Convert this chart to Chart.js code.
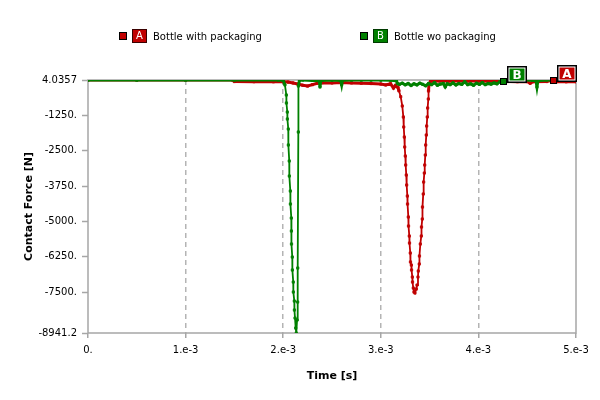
<!DOCTYPE html>
<html>
<head>
<meta charset="utf-8">
<script src="https://cdn.jsdelivr.net/npm/chart.js@4"></script>
<style>
  html, body { margin: 0; padding: 0; background: #fff; }
  #wrap { width: 600px; height: 400px; }
</style>
</head>
<body>
<div id="wrap"><canvas id="forceChart" width="600" height="400"></canvas></div>
<script>
// series info
const seriesNames = ['Bottle with packaging', 'Bottle wo packaging'];
const seriesTags = ['A', 'B'];
const seriesColors = ['#c00000', '#008000'];
const tagTimes = [0.004764, 0.00425];

// axes
const xTicks = [0, 0.001, 0.002, 0.003, 0.004, 0.005];
const xTickLabels = ['0.', '1.e-3', '2.e-3', '3.e-3', '4.e-3', '5.e-3'];
const yTicks = [-8941.2, -7500, -6250, -5000, -3750, -2500, -1250, 4.0357];
const yTickLabels = ['-8941.2', '-7500.', '-6250.', '-5000.', '-3750.', '-2500.', '-1250.', '4.0357'];

// A: bottle with packaging
const timeA = [0, 0.0005, 0.001, 0.00148, 0.0015, 0.0017, 0.0019, 0.002, 0.00205, 0.0021,
  0.00215, 0.0022, 0.00225, 0.0023, 0.00235, 0.0024, 0.0025, 0.0026, 0.0027, 0.0028,
  0.0029, 0.003, 0.00305, 0.0031, 0.00313, 0.00315, 0.003176, 0.003186, 0.003204, 0.00322,
  0.003231, 0.003235, 0.003241, 0.003245, 0.003251, 0.003255, 0.003261, 0.003265, 0.003272, 0.003274,
  0.003282, 0.003284, 0.003292, 0.003294, 0.003302, 0.003304, 0.003313, 0.003315, 0.003323, 0.003325,
  0.003333, 0.00334, 0.00335, 0.003364, 0.003371, 0.003381, 0.003384, 0.003394, 0.003396, 0.003405,
  0.003415, 0.003417, 0.003425, 0.003427, 0.003435, 0.003439, 0.003446, 0.00345, 0.003456, 0.00346,
  0.003466, 0.00347, 0.003476, 0.00348, 0.003487, 0.003489, 0.003494, 0.00351, 0.0036, 0.0037,
  0.0038, 0.0039, 0.004, 0.0041, 0.0042, 0.0043, 0.0044, 0.0045, 0.00453, 0.00456,
  0.0047, 0.004764, 0.0048, 0.0049, 0.005];
const forceA = [0, 0, 0, 0, -50, -55, -60, -60, -70, -100,
  -140, -180, -210, -160, -110, -90, -100, -85, -100, -110,
  -120, -140, -170, -130, -280, -190, -260, -380, -587, -915,
  -1304, -1658, -2012, -2365, -2683, -3002, -3355, -3709, -4098, -4381,
  -4840, -5159, -5512, -5760, -6113, -6431, -6538, -6714, -6962, -7139,
  -7351, -7492, -7528, -7386, -7245, -6962, -6750, -6502, -6219, -5795,
  -5512, -5194, -4911, -4487, -4027, -3603, -3285, -3002, -2648, -2294,
  -1941, -1623, -1304, -986, -668, -385, -137, -40, -30, -35,
  -30, -35, -30, -40, -35, -50, -55, -50, -110, -55,
  -50, 0, -55, -60, -55];

// B: bottle wo packaging
const timeB = [0, 0.0005, 0.001, 0.0015, 0.00195, 0.002, 0.002018, 0.002032, 0.002033, 0.002042,
  0.002043, 0.002052, 0.002053, 0.002062, 0.002063, 0.002073, 0.002074, 0.002083, 0.002084, 0.002085,
  0.002093, 0.002094, 0.002103, 0.002104, 0.002114, 0.002115, 0.002121, 0.002128, 0.002134, 0.002142,
  0.002148, 0.002149, 0.002155, 0.002156, 0.002167, 0.0022, 0.0023, 0.00237, 0.002377, 0.002385,
  0.0025, 0.00259, 0.002599, 0.002607, 0.0027, 0.0028, 0.0029, 0.003, 0.0031, 0.00316,
  0.00317, 0.00319, 0.00322, 0.00325, 0.00328, 0.00331, 0.00334, 0.00337, 0.0034, 0.00343,
  0.00346, 0.00349, 0.00352, 0.00355, 0.00358, 0.00361, 0.00364, 0.00366, 0.00368, 0.00371,
  0.00374, 0.00377, 0.0038, 0.00383, 0.00386, 0.00389, 0.00392, 0.00395, 0.00398, 0.00401,
  0.00404, 0.00407, 0.0041, 0.00413, 0.00416, 0.00419, 0.00422, 0.00425, 0.0043, 0.00435,
  0.00445, 0.00455, 0.00459, 0.0046, 0.00461, 0.0047, 0.00477];
const forceB = [0, 0, 0, 0, 0, -5, -173, -526, -809, -1128,
  -1375, -1729, -2294, -2860, -3391, -3921, -4381, -4876, -5335, -5795,
  -6255, -6714, -7139, -7492, -7811, -8129, -8412, -8766, -8941.2, -8483,
  -7846, -6644, -1835, -208, 0, 0, -10, -20, -244, -15,
  0, -10, -162, -5, 0, 0, 0, 0, -5, -20,
  -120, -150, -110, -165, -120, -190, -130, -170, -110, -150,
  -200, -120, -160, -90, -180, -140, -120, -240, -130, -160,
  -100, -170, -120, -150, -60, -160, -130, -180, -110, -150,
  -90, -160, -120, -140, -100, -130, -60, -31, -10, 0,
  0, -5, -20, -244, -20, 0, 0];

const timeSets = [timeA, timeB];
const forceSets = [forceA, forceB];

function toPoints(times, forces) {
    return times.map((t, i) => ({x: t, y: forces[i]}));
}

const datasets = seriesNames.map((name, i) => ({
    label: name,
    data: toPoints(timeSets[i], forceSets[i]),
    borderColor: seriesColors[i],
    backgroundColor: seriesColors[i],
    borderWidth: 2,
    pointStyle: 'rect',
    pointRadius: 1.6,
    pointBorderWidth: 0.8,
    tension: 0,
    order: i === 0 ? 1 : 0,
    segment: {
        borderWidth: ctx => (ctx.p0.parsed.y > -400 && ctx.p1.parsed.y > -400) ? 3 : 1.8
    }
}));

const frameAndTags = {
    id: 'frameAndTags',
    beforeDatasetsDraw(chart) {
        const {ctx, chartArea: a} = chart;
        ctx.save();
        ctx.strokeStyle = '#a6a6a6';
        ctx.lineWidth = 1.5;
        ctx.strokeRect(a.left, a.top, a.right - a.left, a.bottom - a.top);
        ctx.restore();
    },
    afterDatasetsDraw(chart) {
        const ctx = chart.ctx;
        ctx.save();
        seriesTags.forEach((tag, i) => {
            const times = timeSets[i];
            let best = 0;
            times.forEach((t, j) => {
                if (Math.abs(t - tagTimes[i]) < Math.abs(times[best] - tagTimes[i])) best = j;
            });
            const pt = chart.getDatasetMeta(i).data[best];
            const x = Math.round(pt.x), y = Math.round(pt.y);
            // anchor square
            ctx.fillStyle = seriesColors[i];
            ctx.fillRect(x - 3, y - 3, 6, 6);
            ctx.strokeStyle = '#000';
            ctx.lineWidth = 1;
            ctx.strokeRect(x - 2.5, y - 2.5, 6, 6);
            // tag box
            const bx = x + 4, by = y - 15, bw = 20, bh = 17;
            ctx.fillStyle = '#fff';
            ctx.fillRect(bx, by, bw, bh);
            ctx.strokeStyle = '#000';
            ctx.lineWidth = 1.5;
            ctx.strokeRect(bx + 0.75, by + 0.75, bw - 1.5, bh - 1.5);
            ctx.fillStyle = seriesColors[i];
            ctx.fillRect(bx + 2.5, by + 2.5, bw - 5, bh - 5);
            ctx.fillStyle = '#fff';
            ctx.font = 'bold 12px "DejaVu Sans"';
            ctx.textAlign = 'center';
            ctx.textBaseline = 'middle';
            ctx.fillText(tag, bx + bw / 2, by + bh / 2 + 1);
        });
        ctx.restore();
    },
    afterDraw(chart) {
        const ctx = chart.ctx;
        const starts = [119, 360];
        ctx.save();
        seriesNames.forEach((name, i) => {
            const sx = starts[i];
            ctx.fillStyle = seriesColors[i];
            ctx.fillRect(sx, 32, 8, 8);
            ctx.strokeStyle = '#000';
            ctx.lineWidth = 1;
            ctx.strokeRect(sx + 0.5, 32.5, 7, 7);
            ctx.fillRect(sx + 13, 29, 15, 14);
            ctx.strokeStyle = i === 1 ? '#003a00' : '#3a0000';
            ctx.strokeRect(sx + 13.5, 29.5, 14, 13);
            ctx.fillStyle = '#fff';
            ctx.font = '10px "DejaVu Sans"';
            ctx.textAlign = 'center';
            ctx.textBaseline = 'middle';
            ctx.fillText(seriesTags[i], sx + 20.5, 36.5);
            ctx.fillStyle = '#000';
            ctx.textAlign = 'left';
            ctx.fillText(name, sx + 34, 37);
        });
        ctx.restore();
    }
};

new Chart(document.getElementById('forceChart'), {
    type: 'line',
    data: { datasets: datasets },
    plugins: [frameAndTags],
    options: {
        responsive: false,
        animation: false,
        layout: { padding: { top: 80, right: 24, left: 0, bottom: 0 } },
        plugins: { legend: { display: false }, tooltip: { enabled: false } },
        scales: {
            x: {
                type: 'linear',
                min: 0,
                max: 0.005,
                afterFit: s => { s.height = 67; },
                afterBuildTicks: s => { s.ticks = xTicks.map(v => ({value: v})); },
                ticks: {
                    autoSkip: false,
                    maxRotation: 0,
                    padding: 6,
                    color: '#000',
                    font: { family: 'DejaVu Sans', size: 10 },
                    callback: (v, i) => xTickLabels[i]
                },
                grid: {
                    color: c => (c.index === 0 || c.index === xTicks.length - 1) ? 'rgba(0,0,0,0)' : '#b4b4b4',
                    lineWidth: 1.5,
                    drawTicks: true,
                    tickLength: 5,
                    tickColor: '#a6a6a6',
                    tickWidth: 1.5,
                    tickBorderDash: []
                },
                border: { display: false, dash: [5, 4] },
                title: {
                    display: true,
                    text: 'Time [s]',
                    color: '#000',
                    font: { family: 'DejaVu Sans', size: 11, weight: 'bold' },
                    padding: { top: 0, bottom: 17 }
                }
            },
            y: {
                type: 'linear',
                min: -8941.2,
                max: 4.0357,
                afterFit: s => { s.width = 88; },
                afterBuildTicks: s => { s.ticks = yTicks.map(v => ({value: v})); },
                ticks: {
                    autoSkip: false,
                    padding: 5,
                    color: '#000',
                    font: { family: 'DejaVu Sans', size: 10 },
                    callback: (v, i) => yTickLabels[i]
                },
                grid: {
                    drawOnChartArea: false,
                    drawTicks: true,
                    tickLength: 6,
                    tickColor: '#a6a6a6',
                    tickWidth: 1.5
                },
                border: { display: false },
                title: {
                    display: true,
                    text: 'Contact Force [N]',
                    color: '#000',
                    font: { family: 'DejaVu Sans', size: 11, weight: 'bold' },
                    padding: { top: 23, bottom: 0 }
                }
            }
        }
    }
});
</script>
</body>
</html>
